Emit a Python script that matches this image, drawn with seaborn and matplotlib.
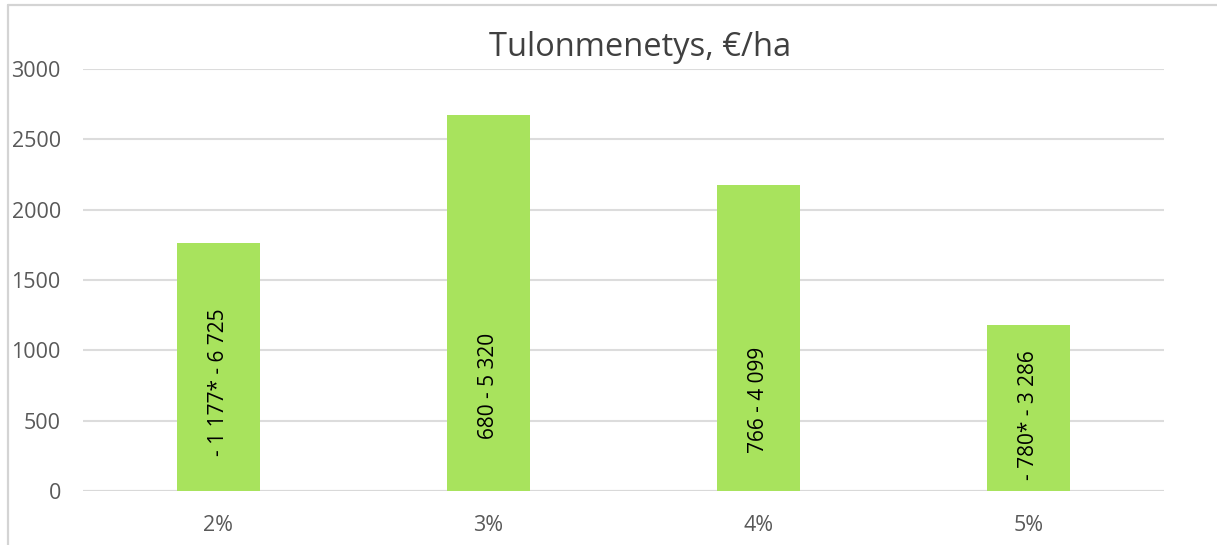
import matplotlib
matplotlib.use("Agg")
import matplotlib.pyplot as plt
from matplotlib.lines import Line2D
import seaborn as sns
import pandas as pd

categories = ["2%", "3%", "4%", "5%"]
values = [1763, 2675, 2175, 1182]
range_labels = ["- 1 177* - 6 725", "680 - 5 320", "766 - 4 099", "- 780* - 3 286"]
title = "Tulonmenetys, €/ha"
yticks = [0, 500, 1000, 1500, 2000, 2500, 3000]

# layout: vertical centre of each rotated label (data units)
label_centres = [775, 745, 650, 540]

sns.set_theme(style="white")
plt.rcParams['font.family'] = ['Open Sans', 'DejaVu Sans']

fig = plt.figure(figsize=(12.17, 5.45), dpi=100)
ax = fig.add_axes([83/1217, 1-491/545, (1164-83)/1217, (491-69)/545])

df = pd.DataFrame({"cat": categories, "val": values})
sns.barplot(data=df, x="cat", y="val", color="#a8e35d", width=0.307,
            saturation=1, ax=ax, zorder=3, edgecolor="none")

ax.set_xlim(-0.5, 3.5)
ax.set_ylim(0, 3000)
ax.set_yticks(yticks)
ax.yaxis.grid(True, color="#dcdcdc", linewidth=1.5, zorder=0)
ax.set_axisbelow(True)
for s in ax.spines.values():
    s.set_visible(False)
ax.axhline(0, color="#d9d9d9", linewidth=1.5, zorder=2)
ax.set_xlabel("")
ax.set_ylabel("")
ax.tick_params(axis="y", length=0, pad=16, labelsize=15.5, labelcolor="#595959")
ax.tick_params(axis="x", length=0, pad=17, labelsize=15.5, labelcolor="#595959")

for i, (lab, yc) in enumerate(zip(range_labels, label_centres)):
    ax.text(i, yc, lab, rotation=90, ha="center", va="center",
            fontsize=15, color="#000000", zorder=4)

fig.text(640/1217, 1-48/545, title, ha="center", va="center",
         fontsize=23.5, color="#404040")

bc = "#d4d4d4"
fig.add_artist(Line2D([8/1217, 1], [1-5/545, 1-5/545], color=bc, linewidth=1.6,
                      transform=fig.transFigure))
fig.add_artist(Line2D([8/1217, 8/1217], [0, 1-5/545], color=bc, linewidth=1.6,
                      transform=fig.transFigure))

fig.savefig("out.png", dpi=100, facecolor="white")
